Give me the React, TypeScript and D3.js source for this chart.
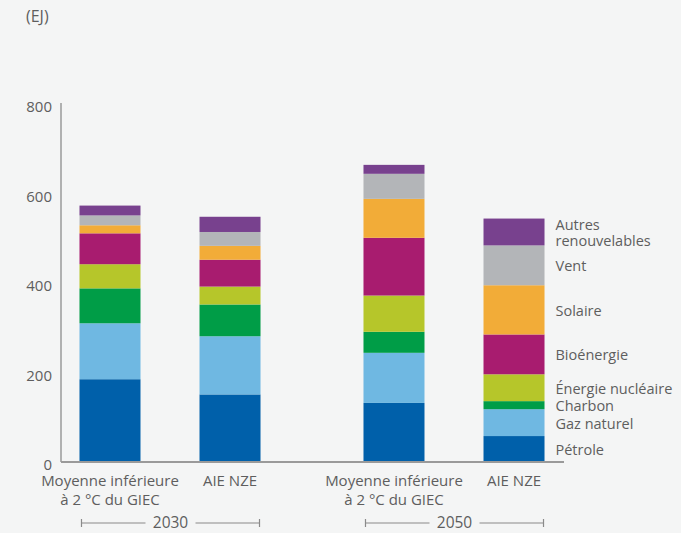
import React from "react";
import * as d3 from "d3";

const years = ["2030", "2050"];
const scenarios = ["GIEC", "NZE"];
const scenarioLabels = [["Moyenne inférieure", "à 2 °C du GIEC"], ["AIE NZE"]];
const sources = ["Pétrole", "Gaz naturel", "Charbon", "Énergie nucléaire", "Bioénergie", "Solaire", "Vent", "Autres renouvelables"];
const legendLines = [["Pétrole"], ["Gaz naturel"], ["Charbon"], ["Énergie nucléaire"], ["Bioénergie"], ["Solaire"], ["Vent"], ["Autres", "renouvelables"]];
const colors = ["#0060aa", "#6fb8e2", "#009d47", "#b6c62a", "#a81c6f", "#f2ac38", "#b3b5b8", "#78418e"];
// values in EJ, order follows sources
const giec2030 = [185, 125, 78, 54, 69, 18, 22, 22];
const nze2030 = [151, 130, 71, 40, 60, 31, 31, 34];
const giec2050 = [132, 112, 47, 81, 129, 87, 56, 20];
const nze2050 = [58, 60, 18, 60, 89, 110, 89, 60];
const yTicks = [0, 200, 400, 600, 800];

const bars = [
  { year: "2030", scen: "GIEC", values: giec2030 },
  { year: "2030", scen: "NZE", values: nze2030 },
  { year: "2050", scen: "GIEC", values: giec2050 },
  { year: "2050", scen: "NZE", values: nze2050 },
];

const FONT = "'Open Sans', sans-serif";
const TXT = "#5e5e5e";

export default function App() {
  const W = 681, H = 533;
  const y = d3.scaleLinear().domain([0, 800]).range([462, 104]);
  const x0 = d3.scaleBand().domain(years).range([28, 596]);
  const x1 = d3.scaleBand().domain(scenarios).range([0, x0.bandwidth()]).paddingInner(0.4917).paddingOuter(0.429);
  const bw = x1.bandwidth();
  const stack = bars.map((b) => {
    let acc = 0;
    return b.values.map((v, i) => {
      const s = { y0: acc, y1: acc + v, i };
      acc += v;
      return s;
    });
  });
  const axisX0 = 61;
  const axisX1 = 564;
  const last = stack[3];
  const lastX = (x0("2050") as number) + (x1("NZE") as number) + bw;

  return (
    <svg width={W} height={H} style={{ position: "absolute", left: 0, top: 0 }} fontFamily={FONT}>
      <rect width={W} height={H} fill="#f4f5f5" />
      <text x={26} y={22} fontSize={16} fill={TXT}>(EJ)</text>
      {bars.map((b, bi) => {
        const bx = (x0(b.year) as number) + (x1(b.scen) as number);
        return (
          <g key={bi}>
            {stack[bi].map((s) => (
              <rect key={s.i} x={bx} width={bw} y={y(s.y1)} height={y(s.y0) - y(s.y1)} fill={colors[s.i]} />
            ))}
          </g>
        );
      })}
      <line x1={axisX0} x2={axisX0} y1={y(800) - 1} y2={y(0)} stroke="#9a9a9a" strokeWidth={1.5} />
      <line x1={axisX0} x2={axisX1} y1={y(0)} y2={y(0)} stroke="#9a9a9a" strokeWidth={2} />
      {yTicks.map((t) => (
        <text key={t} x={52} y={y(t) + 2} fontSize={15} fill={TXT} textAnchor="end" dominantBaseline="central">{t}</text>
      ))}
      {bars.map((b, bi) => {
        const cx = (x0(b.year) as number) + (x1(b.scen) as number) + bw / 2;
        const lines = scenarioLabels[scenarios.indexOf(b.scen)];
        return (
          <text key={bi} x={cx} y={486} fontSize={15} fill={TXT} textAnchor="middle">
            {lines.map((l, li) => (
              <tspan key={li} x={cx} dy={li === 0 ? 0 : 18.5}>{l}</tspan>
            ))}
          </text>
        );
      })}
      {years.map((yr) => {
        const gx0 = (x0(yr) as number) + (x1("GIEC") as number) + 2;
        const gx1 = (x0(yr) as number) + (x1("NZE") as number) + bw - 1;
        const cx = (gx0 + gx1) / 2;
        const yy = 523;
        return (
          <g key={yr}>
            <line x1={gx0} x2={cx - 25} y1={yy} y2={yy} stroke="#8a8a8a" strokeWidth={1.2} />
            <line x1={cx + 25} x2={gx1} y1={yy} y2={yy} stroke="#8a8a8a" strokeWidth={1.2} />
            <line x1={gx0} x2={gx0} y1={yy - 4} y2={yy + 4} stroke="#8a8a8a" strokeWidth={1.2} />
            <line x1={gx1} x2={gx1} y1={yy - 4} y2={yy + 4} stroke="#8a8a8a" strokeWidth={1.2} />
            <text x={cx} y={yy} dy="0.35em" fontSize={15.5} fill={TXT} textAnchor="middle">{yr}</text>
          </g>
        );
      })}
      {last.map((s) => {
        const mid = (y(s.y0) + y(s.y1)) / 2;
        const lines = legendLines[s.i];
        const start = mid - ((lines.length - 1) * 16) / 2;
        return (
          <text key={s.i} x={lastX + 11} y={start} fontSize={14.5} fill={TXT} dominantBaseline="central">
            {lines.map((l, li) => (
              <tspan key={li} x={lastX + 11} y={start + li * 16}>{l}</tspan>
            ))}
          </text>
        );
      })}
    </svg>
  );
}
